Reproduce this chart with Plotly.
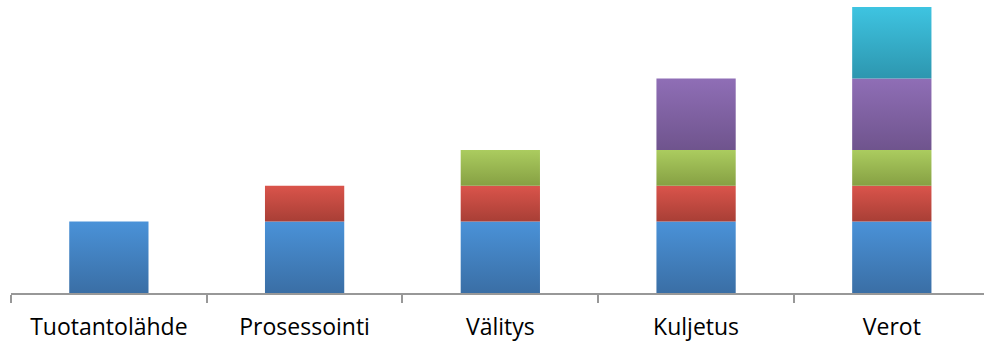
import plotly.graph_objects as go

categories = ["Tuotantolähde", "Prosessointi", "Välitys", "Kuljetus", "Verot"]
series_names = ["Tuotantolähde", "Prosessointi", "Välitys", "Kuljetus", "Verot"]
blue = [2, 2, 2, 2, 2]
red = [0, 1, 1, 1, 1]
green = [0, 0, 1, 1, 1]
purple = [0, 0, 0, 2, 2]
cyan = [0, 0, 0, 0, 2]
series_values = [blue, red, green, purple, cyan]
# (bottom colour, top colour) for Office-style vertical gradients
series_colors = [
    ("rgb(58,110,165)", "rgb(74,146,216)"),
    ("rgb(168,63,54)", "rgb(218,84,75)"),
    ("rgb(134,160,67)", "rgb(171,204,95)"),
    ("rgb(111,84,141)", "rgb(143,110,182)"),
    ("rgb(45,150,175)", "rgb(62,196,225)"),
]

BAR_WIDTH = 0.405

fig = go.Figure()
n = len(categories)
bases = [0.0] * n
for name, vals, (c_bot, c_top) in zip(series_names, series_values, series_colors):
    for i, v in enumerate(vals):
        if v <= 0:
            continue
        b = bases[i]
        t = b + v
        x0, x1 = i - BAR_WIDTH / 2, i + BAR_WIDTH / 2
        fig.add_trace(go.Scatter(
            x=[x0, x1, x1, x0, x0],
            y=[b, b, t, t, b],
            mode="lines",
            line=dict(width=0),
            fill="toself",
            fillgradient=dict(type="vertical", start=b, stop=t,
                              colorscale=[[0, c_bot], [1, c_top]]),
            name=name,
            showlegend=False,
            hoverinfo="skip",
        ))
        bases[i] = t

fig.update_layout(
    width=984, height=343,
    margin=dict(l=11, r=0, t=7, b=50),
    paper_bgcolor="white", plot_bgcolor="white",
    showlegend=False,
    font=dict(family="Open Sans", size=23, color="#000000"),
)
fig.update_xaxes(
    range=[-0.5, 4.471],
    tickmode="array",
    tickvals=list(range(n)),
    ticktext=categories,
    ticks="",
    showline=True, linecolor="#989898", linewidth=2,
    showgrid=False, zeroline=False,
    ticklabelstandoff=12,
    minor=dict(tickmode="linear", tick0=-0.5, dtick=1, ticks="outside",
               ticklen=8, tickwidth=1.5, tickcolor="#989898", showgrid=False),
    tickfont=dict(family="Open Sans", size=23, color="#000000"),
)
fig.update_yaxes(range=[0, 8], visible=False)

fig.write_html("out.html")
